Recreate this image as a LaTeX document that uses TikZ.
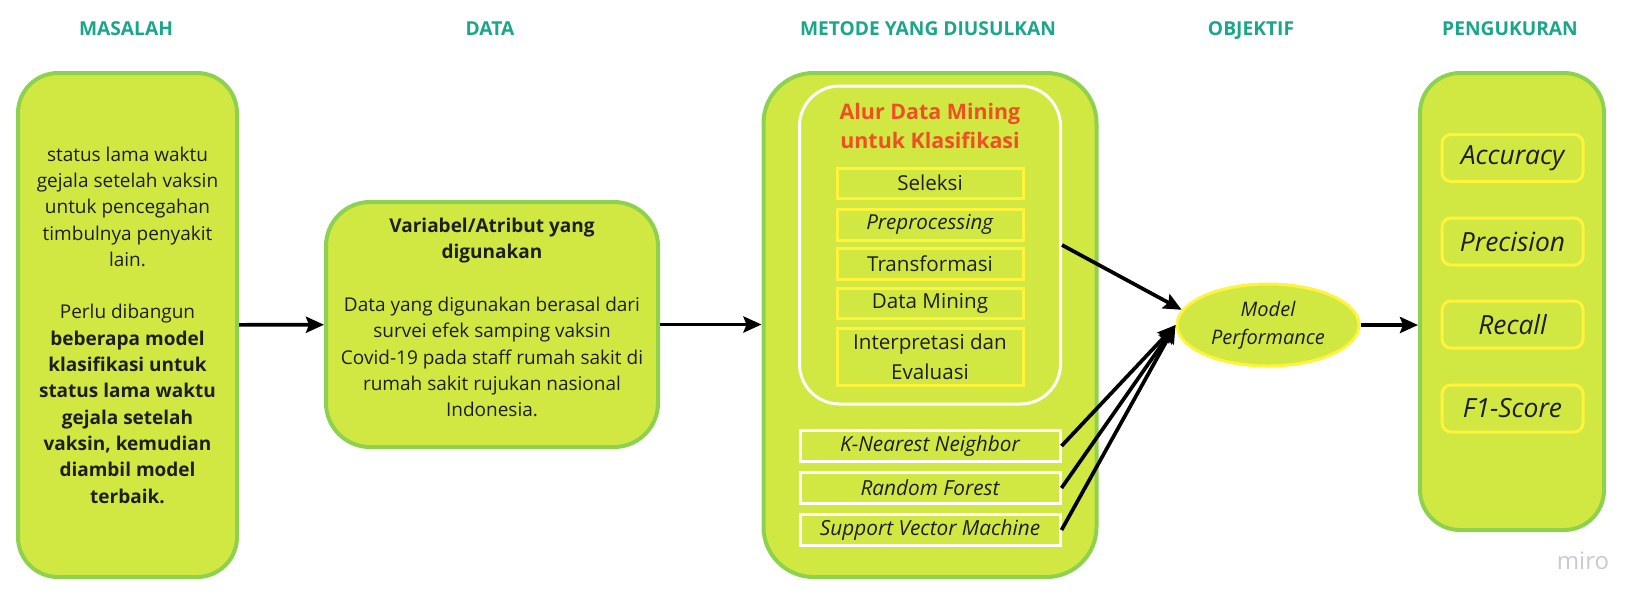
\documentclass[tikz,border=0pt]{standalone}
\usepackage{fontspec}
\setmainfont{Open Sans}
\usetikzlibrary{arrows.meta,shapes.geometric}
\definecolor{boxfill}{HTML}{D1E843}
\definecolor{boxline}{HTML}{8ED14F}
\definecolor{headcol}{HTML}{19A68A}
\definecolor{alurcol}{HTML}{EF4F24}
\definecolor{stepline}{HTML}{FFF33B}
\definecolor{txtcol}{HTML}{1E1E1E}
\definecolor{wmcol}{HTML}{C9C9D2}
\begin{document}
\begin{tikzpicture}[x=0.5pt,y=-0.5pt]
\tikzstyle{every node}=[inner sep=0pt, text=txtcol, font=\fontsize{9.5}{13.15}\selectfont]
\tikzstyle{head}=[anchor=base, text=headcol, font=\fontsize{9.6}{13}\selectfont\bfseries]
\tikzstyle{bigbox}=[draw=boxline, line width=2pt, fill=boxfill, rounded corners=20pt, align=center]
\tikzstyle{stepbox}=[draw=stepline, line width=1.5pt, minimum width=93pt, align=center, font=\fontsize{10.3}{15}\selectfont]
\tikzstyle{algbox}=[draw=white, line width=1.5pt, minimum width=130pt, minimum height=15.5pt, font=\fontsize{10.4}{13}\selectfont\itshape]
\tikzstyle{metbox}=[draw=stepline, line width=1.5pt, rounded corners=4.5pt, minimum width=70.5pt, minimum height=23.5pt, font=\fontsize{13.2}{15}\selectfont\itshape]
\tikzstyle{arr}=[line width=1.85pt, -{Stealth[length=9pt,width=8pt,inset=1.5pt]}]
\useasboundingbox (0,0) rectangle (1647,607);
\node (h1) [head] at (126,35) {MASALAH};
\node (h2) [head] at (490,35) {DATA};
\node (h3) [head] at (928,35) {METODE YANG DIUSULKAN};
\node (h4) [head] at (1251,35) {OBJEKTIF};
\node (h5) [head] at (1510,35) {PENGUKURAN};
\node (mas) [bigbox, minimum width=109.5pt, minimum height=252pt] at (127.5,325) {status lama waktu\\gejala setelah vaksin\\untuk pencegahan\\timbulnya penyakit\\lain.\\[13.15pt]Perlu dibangun\\\textbf{beberapa model}\\\textbf{klasifikasi untuk}\\\textbf{status lama waktu}\\\textbf{gejala setelah}\\\textbf{vaksin, kemudian}\\\textbf{diambil model}\\\textbf{terbaik.}};
\node (dat) [bigbox, minimum width=166pt, minimum height=122.5pt, rounded corners=22pt, text depth=7pt] at (492,324.5) {\textbf{Variabel/Atribut yang}\\\textbf{digunakan}\\[13.15pt]Data yang digunakan berasal dari\\survei efek samping vaksin\\Covid-19 pada staff rumah sakit di\\rumah sakit rujukan nasional\\Indonesia.};
\node (met) [bigbox, minimum width=166.5pt, minimum height=252pt, rounded corners=25pt] at (930,325) {};
\node (alur) [draw=white, line width=1.5pt, rounded corners=20pt, minimum width=130.5pt, minimum height=159pt] at (930,245) {};
\node (judul) [text=alurcol, align=center, font=\fontsize{10.7}{14.2}\selectfont\bfseries] at (930,126) {Alur Data Mining\\untuk Klasifikasi};
\node (s1) [stepbox, minimum height=15pt] at (930,183) {Seleksi};
\node (s2) [stepbox, minimum height=15.5pt] at (930,224.5) {\textit{Preprocessing}};
\node (s3) [stepbox, minimum height=15.5pt] at (930,263.5) {Transformasi};
\node (s4) [stepbox, minimum height=15pt] at (930,303) {Data Mining};
\node (s5) [stepbox, minimum height=28.5pt] at (930,356.5) {Interpretasi dan\\Evaluasi};
\node (a1) [algbox] at (930,446) {K-Nearest Neighbor};
\node (a2) [algbox] at (930,488) {Random Forest};
\node (a3) [algbox] at (930,530) {Support Vector Machine};
\node (perf) [ellipse, draw=stepline, line width=1.5pt, fill=boxfill, minimum width=91pt, minimum height=41pt, align=center, font=\fontsize{10}{14}\selectfont\itshape] at (1268,325) {Model\\Performance};
\node (ukur) [bigbox, minimum width=92pt, minimum height=228.5pt] at (1512,301.5) {};
\node (m1) [metbox] at (1512.5,158) {Accuracy};
\node (m2) [metbox] at (1512.5,241.5) {Precision};
\node (m3) [metbox] at (1512.5,324.5) {Recall};
\node (m4) [metbox] at (1512.5,408.5) {F1-Score};
\node (wm) [text=wmcol, font=\fontsize{12}{14}\selectfont] at (1583,561) {miro};
\draw [arr] (mas) -- (dat);
\draw [arr] (dat.east) -- (dat.east -| met.west);
\draw [arr] (alur.east) -- (perf.170);
\draw [arr] (a1.east) -- (perf.west);
\draw [arr] (a2.east) -- (perf.west);
\draw [arr] (a3.east) -- (perf.west);
\draw [arr] (perf.east) -- (perf.east -| ukur.west);
\end{tikzpicture}
\end{document}
